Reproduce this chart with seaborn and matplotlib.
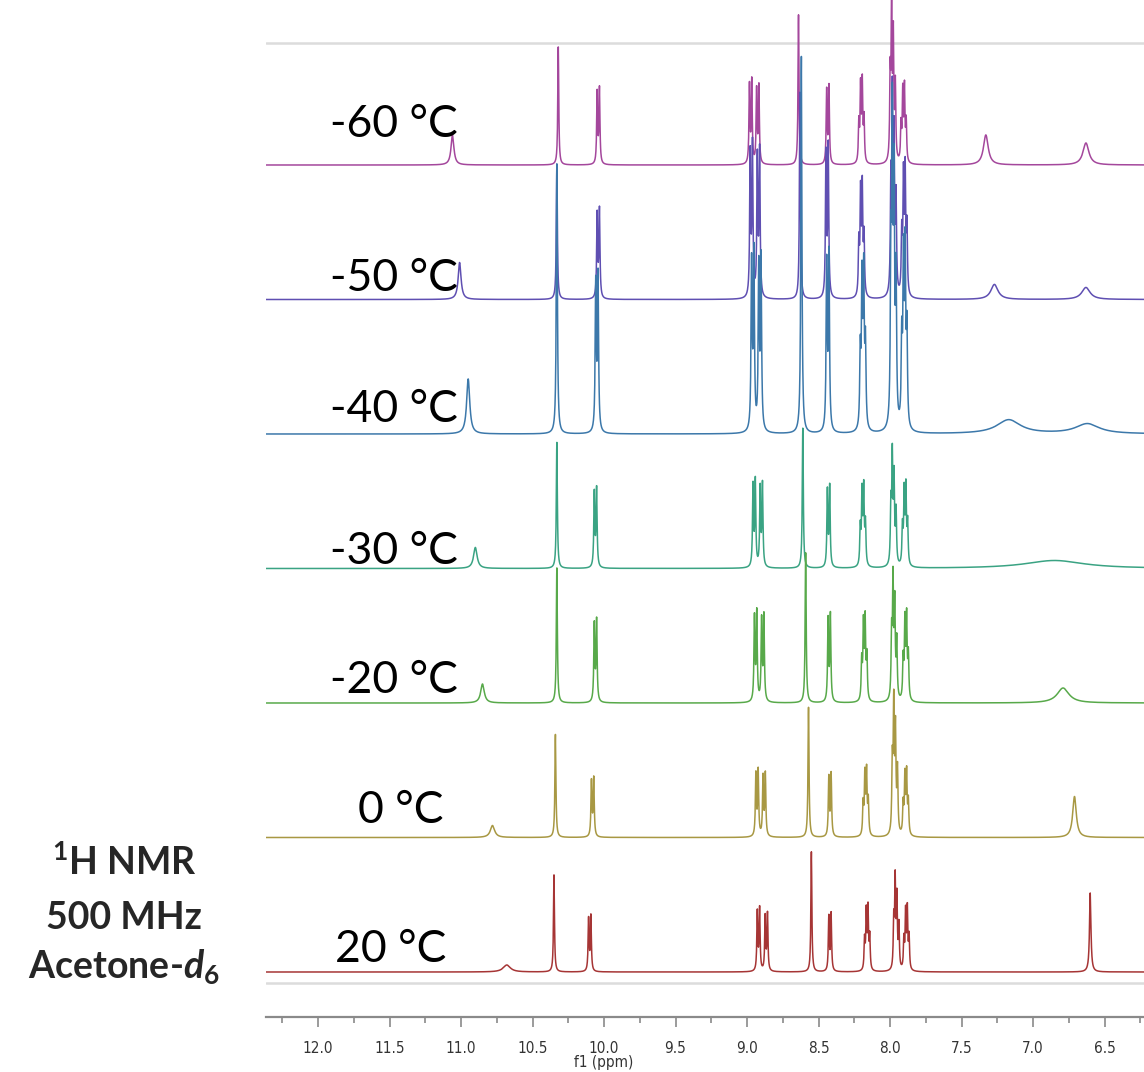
import numpy as np
import pandas as pd
import seaborn as sns
import matplotlib.pyplot as plt

# temperatures, bottom row last so it is drawn on top
temps = ["-60 °C", "-50 °C", "-40 °C", "-30 °C", "-20 °C", "0 °C", "20 °C"]
colors = ["#a4479c", "#5f4fb2", "#3c78aa", "#3aa383", "#58a94a", "#a89843", "#a63535"]

# sharp multiplets: 10.33 s, 10.05 d, 8.95 d, 8.90 d, 8.6 s, 8.43 d, 8.19 dd, 7.98 m, 7.90 dd
kinds = ["s", "d", "d", "d", "s", "d", "dd", "m", "dd"]
sharp_ppm = [
    [10.32, 10.04, 8.975, 8.925, 8.64, 8.435, 8.20, 7.985, 7.905],
    [10.33, 10.04, 8.970, 8.920, 8.63, 8.440, 8.20, 7.980, 7.900],
    [10.33, 10.05, 8.960, 8.910, 8.62, 8.435, 8.19, 7.980, 7.900],
    [10.33, 10.06, 8.950, 8.900, 8.61, 8.430, 8.19, 7.980, 7.895],
    [10.33, 10.06, 8.940, 8.890, 8.59, 8.425, 8.18, 7.975, 7.890],
    [10.34, 10.08, 8.930, 8.880, 8.57, 8.420, 8.17, 7.970, 7.890],
    [10.35, 10.10, 8.920, 8.865, 8.55, 8.420, 8.16, 7.960, 7.885],
]
sharp_height = [
    [118, 75, 82, 77, 150, 77, 78, 150, 72],
    [135, 88, 150, 145, 207, 150, 105, 188, 120],
    [270, 155, 175, 170, 377, 175, 150, 290, 170],
    [126, 78, 85, 82, 140, 80, 75, 105, 75],
    [135, 81, 88, 85, 150, 86, 78, 115, 80],
    [103, 58, 65, 62, 130, 62, 62, 125, 60],
    [97, 55, 62, 57, 120, 57, 60, 87, 59],
]
line_width = [0.004, 0.0042, 0.0045, 0.0042, 0.0042, 0.0042, 0.004]

# broad exchangeable / fluxional peaks: (ppm, height, half width)
broad_peaks = [
    [(11.06, 30, 0.012), (7.33, 30, 0.02), (6.63, 22, 0.025)],
    [(11.01, 37, 0.012), (7.27, 15, 0.03), (6.63, 12, 0.035)],
    [(10.95, 55, 0.013), (7.17, 14, 0.10), (6.62, 10, 0.10)],
    [(10.90, 21, 0.015), (6.85, 8, 0.25)],
    [(10.85, 19, 0.015), (6.79, 15, 0.05)],
    [(10.78, 12, 0.018), (6.71, 41, 0.015)],
    [(10.68, 7, 0.03), (6.60, 79, 0.006)],
]

# multiplet line patterns: offsets (ppm) and relative intensities
patterns = {
    "s": ([0.0], [1.0]),
    "d": ([-0.008, 0.008], [1.0, 0.95]),
    "dd": ([-0.018, -0.006, 0.006, 0.018], [0.55, 1.0, 0.95, 0.5]),
    "m": ([-0.022, -0.008, 0.004, 0.014], [0.5, 0.8, 1.0, 0.55]),
}

x_left, x_right = 12.364, 6.224
row_base, row_step = 45, 134.5


def lorentz(x, x0, h, w):
    return h * w ** 2 / ((x - x0) ** 2 + w ** 2)


ppm = np.arange(x_right, x_left, 0.001)
frames = []
for i, temp in enumerate(temps):
    y = np.zeros_like(ppm)
    for kind, c, h in zip(kinds, sharp_ppm[i], sharp_height[i]):
        offs, wts = patterns[kind]
        for o, wt in zip(offs, wts):
            y += lorentz(ppm, c + o, h * wt, line_width[i])
    for c, h, w in broad_peaks[i]:
        y += lorentz(ppm, c, h, w)
    y += row_base + (len(temps) - 1 - i) * row_step
    frames.append(pd.DataFrame({"ppm": ppm, "signal": y, "temp": temp}))
df = pd.concat(frames, ignore_index=True)

sns.set_style("white")
plt.rcParams["font.family"] = ["Lato", "DejaVu Sans"]
plt.rcParams["mathtext.fontset"] = "custom"
plt.rcParams["mathtext.rm"] = "Lato:bold"
plt.rcParams["mathtext.it"] = "Lato:italic:bold"
plt.rcParams["mathtext.bf"] = "Lato:bold"

W, H = 1144, 1072
fig = plt.figure(figsize=(W / 100, H / 100), dpi=100)
ax = fig.add_axes([266 / W, (H - 1017) / H, (W - 266) / W, 1017 / H])

ax.axhline(974, color="#dcdcdc", lw=1.8, zorder=0)
ax.axhline(34, color="#dcdcdc", lw=1.8, zorder=0)

sns.lineplot(data=df, x="ppm", y="signal", hue="temp", hue_order=temps,
             palette=colors, estimator=None, sort=False, legend=False,
             linewidth=1.1, ax=ax)

ax.set_xlim(x_left, x_right)
ax.set_ylim(0, 1017)
ax.set_yticks([])
ax.set_ylabel("")
ax.set_xlabel("")
for s in ["left", "top", "right"]:
    ax.spines[s].set_visible(False)
ax.spines["bottom"].set_color("#8a8a8a")
ax.spines["bottom"].set_linewidth(1.6)
ax.set_xticks(np.arange(12.0, 6.4, -0.5))
ax.set_xticks(np.arange(12.25, 6.2, -0.5), minor=True)
ax.xaxis.set_major_formatter(plt.FormatStrFormatter("%.1f"))
ax.tick_params(axis="x", which="both", bottom=True)
ax.tick_params(axis="x", which="major", direction="out", length=7, width=1.2,
               color="#8a8a8a", pad=10, labelsize=12, labelcolor="#333333")
ax.tick_params(axis="x", which="minor", direction="out", length=4, width=1.2,
               color="#8a8a8a")
for lab in ax.get_xticklabels():
    lab.set_family("DejaVu Sans")
    lab.set_stretch("condensed")
    lab.set_fontsize(11)
ax.text((x_left - 10.0) / (x_left - x_right), -(1062 - 1017) / 1017, "f1 (ppm)",
        transform=ax.transAxes, ha="center", va="center", fontsize=11,
        color="#333333", family="DejaVu Sans", stretch="condensed")

# temperature labels: left edge and baseline in pixels
label_x = [330, 330, 330, 330, 330, 358, 335]
label_y = [137, 291, 422, 564, 693, 823, 962]
for t, lx, ly in zip(temps, label_x, label_y):
    fig.text(lx / W, 1 - ly / H, t, fontsize=32, ha="left", va="baseline",
             color="black")

fig.text(124 / W, 1 - 862 / H, r"$^{1}$H NMR", fontsize=27, fontweight="bold",
         ha="center", va="center")
fig.text(124 / W, 1 - 918 / H, "500 MHz", fontsize=27, fontweight="bold",
         ha="center", va="center")
fig.text(124 / W, 1 - 967 / H, r"Acetone-$\mathit{d}_{6}$", fontsize=27,
         fontweight="bold", ha="center", va="center")

fig.savefig("out.png", dpi=100)
